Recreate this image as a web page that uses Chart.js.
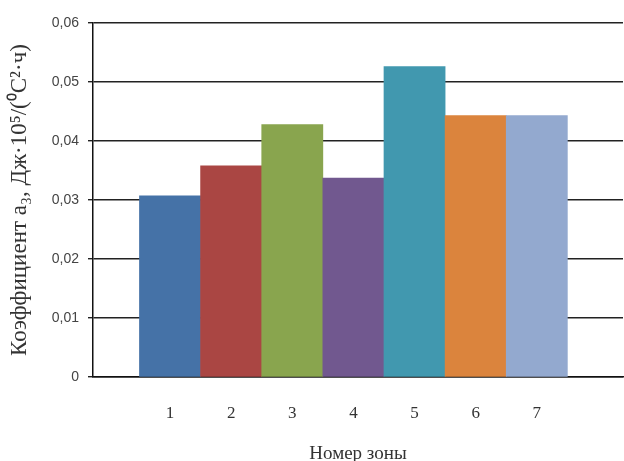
<!DOCTYPE html>
<html>
<head>
<meta charset="utf-8">
<script src="https://cdn.jsdelivr.net/npm/chart.js@4/dist/chart.umd.min.js"></script>
<style>
  html, body { margin: 0; padding: 0; background: #fff; }
  #wrap { width: 624px; height: 461px; }
</style>
</head>
<body>
<div id="wrap"><canvas id="chart" width="624" height="461"></canvas></div>
<script>
// zones on the x axis and the coefficient read for each
const zones = [1, 2, 3, 4, 5, 6, 7];
const coeffValues = [0.0307, 0.0358, 0.0428, 0.0337, 0.0526, 0.0443, 0.0443];
const barColors = ["#4572A7", "#AA4643", "#89A54E", "#71588F", "#4198AF", "#DB843D", "#93A9CF"];
const yTicks = [0, 0.01, 0.02, 0.03, 0.04, 0.05, 0.06];

const serif = "'Liberation Serif', 'Times New Roman', serif";
const sans = "'Liberation Sans', Arial, sans-serif";

new Chart(document.getElementById("chart"), {
  type: "bar",
  data: {
    datasets: [{
      data: zones.map((z, i) => ({ x: z, y: coeffValues[i] })),
      backgroundColor: barColors,
      borderWidth: 0,
      barPercentage: 1,
      categoryPercentage: 1,
    }],
  },
  options: {
    responsive: false,
    animation: false,
    devicePixelRatio: 1,
    layout: { padding: { top: 23, right: 1, bottom: 0, left: 0 } },
    plugins: { legend: { display: false }, tooltip: { enabled: false } },
    scales: {
      x: {
        type: "linear",
        offset: false,
        min: -0.26,
        max: 8.41,
        afterBuildTicks: (s) => { s.ticks = zones.map((v) => ({ value: v })); },
        afterFit: (s) => { s.height = 84; },
        grid: { display: false, drawTicks: false },
        border: { display: true, color: "#111", width: 1.5 },
        ticks: {
          padding: 26,
          color: "#333",
          font: { family: serif, size: 17 },
          callback: (v) => String(v),
        },
        title: {
          display: true,
          text: "Номер зоны",
          color: "#333",
          font: { family: serif, size: 19, lineHeight: 1 },
          padding: { top: 0, bottom: -3 },
        },
      },
      y: {
        min: 0,
        max: 0.06,
        afterBuildTicks: (s) => { s.ticks = yTicks.map((v) => ({ value: v })); },
        afterFit: (s) => { s.width = 93; },
        grid: { color: "#222", lineWidth: 1.4, tickLength: 5, drawTicks: true },
        border: { display: true, color: "#111", width: 1.5 },
        ticks: {
          padding: 9,
          color: "#444",
          font: { family: sans, size: 14 },
          callback: (v) => (v === 0 ? "0" : v.toFixed(2).replace(".", ",")),
        },
        title: {
          display: true,
          text: "Коэффициент a₃, Дж·10⁵/(⁰C²·ч)",
          color: "#333",
          font: { family: serif, size: 23, lineHeight: 1.2 },
          padding: { top: 6, bottom: 0 },
        },
      },
    },
  },
});
</script>
</body>
</html>
